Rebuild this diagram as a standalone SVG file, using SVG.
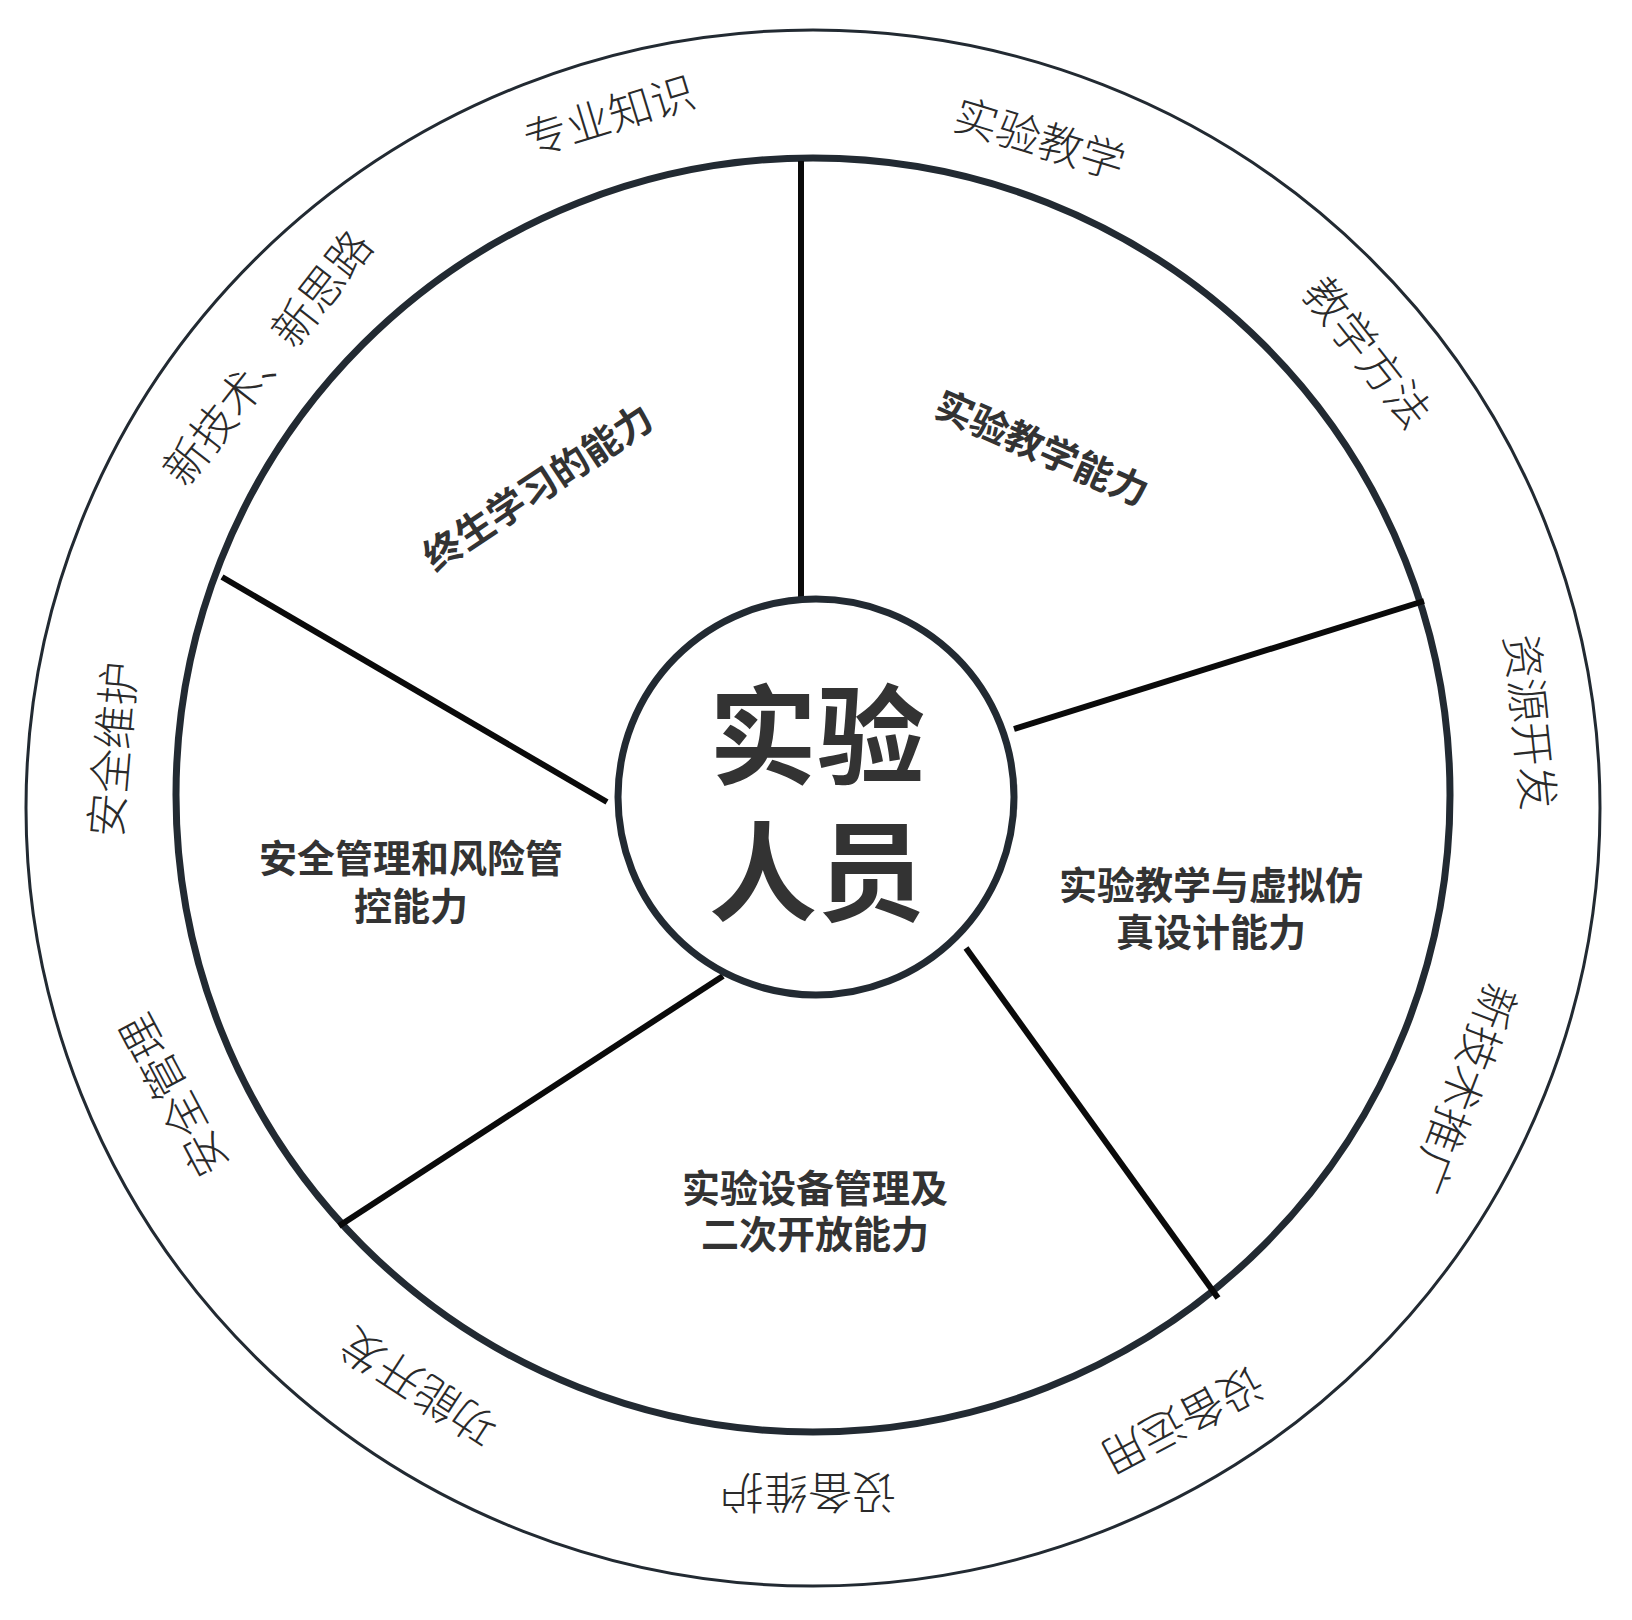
<svg xmlns="http://www.w3.org/2000/svg" width="1632" height="1620" viewBox="0 0 1632 1620">
<style>
.ring{fill:none;stroke:#222a32}
.spoke{stroke:#0a0a0a;stroke-width:6;stroke-linecap:butt}
.outer{font-family:"Noto Sans CJK SC","Noto Sans",sans-serif;font-weight:300;font-size:44px;fill:#2a2a2a;text-anchor:middle}
.inner{font-family:"Noto Sans CJK SC","Noto Sans",sans-serif;font-weight:700;font-size:38px;fill:#333333;text-anchor:middle}
.center{font-family:"Noto Sans CJK SC","Noto Sans",sans-serif;font-weight:700;font-size:108px;fill:#333333;text-anchor:middle}
</style>
<rect width="1632" height="1620" fill="#ffffff"/>
<g id="rings">
<ellipse class="ring" cx="813" cy="808" rx="787" ry="778" stroke-width="3"/>
<circle class="ring" cx="813" cy="795" r="637" stroke-width="7"/>
</g>
<g id="connectors">
<line class="spoke" x1="801" y1="161" x2="801" y2="600"/>
<line class="spoke" x1="1424" y1="601" x2="1014" y2="729"/>
<line class="spoke" x1="222" y1="577" x2="607" y2="802"/>
<line class="spoke" x1="339" y1="1226" x2="723" y2="976"/>
<line class="spoke" x1="966" y1="948" x2="1218" y2="1298"/>
</g>
<g id="center-node">
<circle cx="816" cy="797" r="198" fill="#ffffff" stroke="#222a32" stroke-width="7"/>
<text class="center"><tspan x="817" y="776">实验</tspan><tspan x="817" y="912">人员</tspan></text>
</g>
<g id="sector-lifelong">
<text class="inner" transform="translate(538,487) rotate(-33.7)" y="14">终生学习的能力</text>
</g>
<g id="sector-teaching">
<text class="inner" transform="translate(1042,448) rotate(23.8)" y="14">实验教学能力</text>
</g>
<g id="sector-virtual">
<text class="inner"><tspan x="1211" y="899">实验教学与虚拟仿</tspan><tspan x="1211" y="946">真设计能力</tspan></text>
</g>
<g id="sector-equipment">
<text class="inner"><tspan x="815" y="1202">实验设备管理及</tspan><tspan x="815" y="1248">二次开放能力</tspan></text>
</g>
<g id="sector-safety">
<text class="inner"><tspan x="411" y="872">安全管理和风险管</tspan><tspan x="411" y="920">控能力</tspan></text>
</g>
<g id="outer-labels">
<g id="lbl-zhuanye"><text class="outer" transform="translate(609,115) rotate(-17)" y="17">专业知识</text></g>
<g id="lbl-shiyanjiaoxue"><text class="outer" transform="translate(1040,138) rotate(17)" y="17">实验教学</text></g>
<g id="lbl-jiaoxuefangfa"><text class="outer" transform="translate(1368,352) rotate(52)" y="17">教学方法</text></g>
<g id="lbl-ziyuan"><text class="outer" transform="translate(1531,722) rotate(84)" y="17">资源开发</text></g>
<g id="lbl-tuiguang"><text class="outer" transform="translate(1464,1089) rotate(111)" y="17">新技术推广</text></g>
<g id="lbl-yunyong"><text class="outer" transform="translate(1183,1421) rotate(152)" y="17">设备运用</text></g>
<g id="lbl-weihu"><text class="outer" transform="translate(808,1493) rotate(180)" y="17">设备维护</text></g>
<g id="lbl-gongneng"><text class="outer" transform="translate(418,1388) rotate(213)" y="17">功能开发</text></g>
<g id="lbl-anquanguanli"><text class="outer" transform="translate(173,1096) rotate(242)" y="17">安全管理</text></g>
<g id="lbl-anquanweihu"><text class="outer" transform="translate(112,749) rotate(-85)" y="17">安全维护</text></g>
<g id="lbl-xinjishu"><text class="outer" transform="translate(267,357) rotate(-52)" y="17">新技术、新思路</text></g>
</g>
</svg>
